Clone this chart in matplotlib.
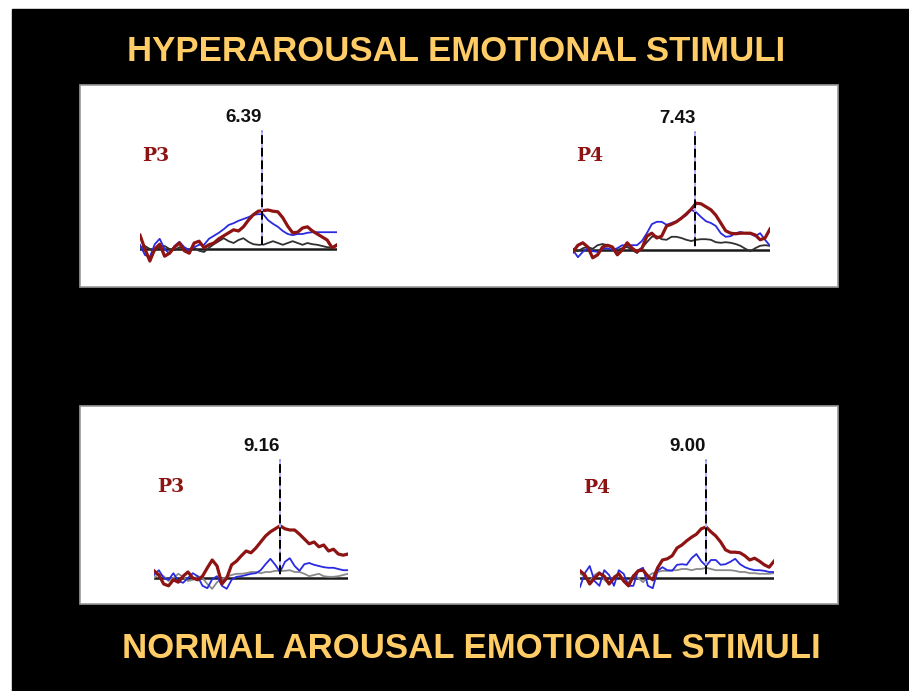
import numpy as np
import matplotlib
matplotlib.use("Agg")
import matplotlib.pyplot as plt
from matplotlib.patches import Rectangle

# time axis of each ERP trace (ms)
t_ms = np.arange(-400, 801, 30)

# amplitudes (uV)
hyper_p3_red = [2.3, 0.0, -2.0, 0.0, 0.8, -1.2, -0.7, 0.3, 1.0, -0.3, -0.7, 1.0, 1.3, 0.2, 0.7, 1.0, 1.7, 2.2, 2.7, 3.2,
                3.0, 3.7, 4.8, 5.7, 6.3, 6.4, 6.5, 6.3, 6.2, 5.2, 3.8, 2.7, 2.8, 3.5, 3.7, 3.0, 2.5, 2.0, 1.5, 0.2, 0.7]
hyper_p3_blue = [0.7, -1.0, -1.3, 0.8, 1.7, 0.0, -0.8, 0.5, 1.2, 0.3, -0.2, 0.3, 0.7, 0.7, 1.7, 2.2, 2.7, 3.3, 4.0, 4.3,
                 4.7, 5.0, 5.3, 5.7, 5.8, 5.8, 4.8, 4.2, 3.7, 3.0, 2.5, 2.3, 2.5, 2.5, 2.7, 2.8, 2.8, 2.8, 2.8, 2.8, 2.8]
hyper_p3_black = [0.2, 0.5, 0.0, -0.3, 0.3, 0.5, 0.0, -0.2, 0.3, 0.2, -0.2, 0.2, -0.3, -0.5, 0.2, 0.8, 1.3, 1.8, 1.3, 1.0,
                  1.5, 1.8, 1.2, 0.8, 0.7, 0.7, 1.0, 1.3, 1.0, 0.7, 1.0, 1.3, 1.0, 0.7, 1.0, 0.8, 0.7, 0.5, 0.3, 0.2, 0.5]

hyper_p4_red = [-0.3, 0.8, 1.2, 0.5, -1.3, -0.8, 0.5, 0.8, 0.5, -0.8, 0.0, 1.2, 0.3, -0.3, 0.3, 2.3, 2.8, 2.0, 2.3, 4.0,
                4.3, 4.7, 5.3, 6.0, 6.8, 7.8, 7.7, 7.2, 6.7, 5.8, 4.5, 3.2, 2.8, 2.7, 2.8, 2.8, 2.8, 2.5, 1.7, 2.0, 3.5]
hyper_p4_blue = [0.0, -1.2, -0.3, 0.3, -0.2, -0.3, 0.2, 0.3, 0.0, 0.3, 0.8, 0.7, 0.8, 0.8, 1.5, 2.8, 4.3, 4.7, 4.7, 4.2,
                 4.5, 4.8, 5.3, 5.8, 6.7, 6.3, 5.5, 4.8, 4.5, 4.0, 2.8, 2.2, 2.3, 2.8, 3.0, 2.8, 2.7, 2.3, 2.8, 1.7, 0.7]
hyper_p4_black = [0.2, -0.2, 0.3, 0.5, 0.2, 0.8, 1.0, 0.8, 0.3, 0.0, 0.3, 0.5, 0.0, -0.5, 0.3, 1.3, 2.2, 2.3, 1.8, 1.7,
                  2.2, 2.2, 2.0, 1.7, 1.5, 1.7, 1.8, 1.8, 1.7, 1.3, 1.2, 1.3, 1.2, 1.0, 0.7, 0.2, -0.2, 0.3, 0.7, 0.8, 0.7]

normal_p3_red = [1.2, 0.5, -1.0, -1.3, -0.3, -0.7, 0.3, 1.0, 0.0, -0.3, 0.3, 1.7, 3.0, 2.0, -1.0, 0.0, 2.2, 2.8, 3.7, 4.5,
                 4.2, 5.0, 6.0, 7.0, 7.7, 8.2, 8.7, 8.2, 8.0, 8.0, 7.3, 6.5, 5.7, 6.0, 5.2, 5.5, 4.5, 4.8, 4.0, 3.8, 4.0]
normal_p3_blue = [0.5, 1.3, 0.0, -0.3, 0.8, -0.5, -0.8, 0.0, 0.8, 0.3, -1.3, -1.7, -0.2, 0.3, -1.3, -1.8, -0.3, 0.2, 0.3, 0.5,
                  0.7, 0.8, 1.3, 2.3, 3.2, 2.2, 1.0, 2.7, 3.3, 2.0, 1.2, 2.3, 2.5, 2.2, 2.0, 1.8, 1.7, 1.7, 1.5, 1.3, 1.3]
normal_p3_gray = [0.0, 0.7, 0.3, -0.5, 0.0, 0.7, 0.2, -0.5, -0.3, 0.3, 0.0, -1.0, -1.8, -0.7, -0.2, 0.2, 0.5, 0.7, 0.7, 0.8,
                  1.0, 1.0, 0.8, 1.0, 1.0, 1.2, 1.2, 1.2, 1.3, 1.0, 1.0, 0.7, 0.3, 0.5, 0.7, 0.3, 0.2, 0.2, 0.3, 0.5, 0.7]

normal_p4_red = [1.2, 0.5, -1.0, 0.0, 0.8, 0.3, -1.0, 0.0, 0.7, -0.5, -1.3, 0.3, 1.2, 1.3, 0.3, -0.3, 1.7, 3.0, 3.2, 3.7,
                 5.0, 5.5, 6.2, 6.8, 7.3, 8.2, 8.5, 7.7, 7.0, 6.0, 4.7, 4.3, 4.3, 4.2, 3.7, 3.0, 3.3, 2.8, 2.2, 1.8, 2.8]
normal_p4_blue = [-1.5, 0.8, 2.0, -0.5, -1.3, 1.3, 0.5, -1.3, 1.3, 0.7, -1.3, -1.3, 1.3, 1.7, -1.3, -1.7, 1.2, 1.8, 1.3, 1.2,
                  2.2, 2.3, 2.2, 3.3, 4.0, 2.8, 2.0, 3.0, 3.0, 2.2, 2.3, 2.7, 3.2, 2.3, 1.8, 1.5, 1.3, 1.3, 1.2, 1.0, 1.0]
normal_p4_gray = [0.7, 0.3, -0.5, 0.5, 1.0, -0.3, -1.0, 0.3, 0.7, -0.3, -0.8, 0.5, 0.0, -0.7, 0.3, 0.8, 1.0, 1.2, 1.2, 1.3,
                  1.3, 1.5, 1.5, 1.3, 1.5, 1.5, 1.7, 1.5, 1.3, 1.3, 1.3, 1.3, 1.2, 1.0, 1.0, 0.8, 0.8, 0.7, 0.7, 0.7, 0.8]

peak_labels = ["6.39", "7.43", "9.16", "9.00"]
peak_latency = [344, 344, 380, 380]
channels = ["P3", "P4", "P3", "P4"]

W, H = 909, 691
RED = "#8e1414"
BLUE = "#2a2ae0"
TITLE_COL = "#ffcc66"
SCALE = 6.0  # px per uV

fig = plt.figure(figsize=(W / 100, H / 100), dpi=100)
fig.patch.set_facecolor("white")

# background in pixel coords
bg = fig.add_axes([0, 0, 1, 1])
bg.set_xlim(0, W)
bg.set_ylim(H, 0)
bg.axis("off")
bg.add_patch(Rectangle((12, 9), W - 12, H - 9, color="black"))
bg.add_patch(Rectangle((80, 85), 758, 202, facecolor="white", edgecolor="#9a9a9a", lw=1.2))
bg.add_patch(Rectangle((80, 406), 758, 198, facecolor="white", edgecolor="#9a9a9a", lw=1.2))

bg.text(456, 51, "HYPERAROUSAL EMOTIONAL STIMULI", color=TITLE_COL, fontsize=25,
        fontweight="bold", family="Liberation Sans", ha="center", va="center")
bg.text(471, 648, "NORMAL AROUSAL EMOTIONAL STIMULI", color=TITLE_COL, fontsize=25,
        fontweight="bold", family="Liberation Sans", ha="center", va="center")

# channel name positions (px)
chan_pos = [(156, 156), (590, 156), (171, 487), (597, 488)]
for (cx, cy), name in zip(chan_pos, channels):
    bg.text(cx, cy, name, color=RED, fontsize=13.5, fontweight="bold",
            family="DejaVu Serif", ha="center", va="center")

# waveform boxes: x start, x end, baseline y (px)
boxes = [(140, 337, 249), (573, 770, 250), (154, 348, 578), (580, 774, 578)]
traces = [
    (hyper_p3_red, hyper_p3_blue, hyper_p3_black, "#303030"),
    (hyper_p4_red, hyper_p4_blue, hyper_p4_black, "#303030"),
    (normal_p3_red, normal_p3_blue, normal_p3_gray, "#8a8a8a"),
    (normal_p4_red, normal_p4_blue, normal_p4_gray, "#8a8a8a"),
]

below, above = 30, 140
for k in range(4):
    x0, x1, base = boxes[k]
    ax = fig.add_axes([x0 / W, (H - base - below) / H, (x1 - x0) / W, (below + above) / H])
    ax.set_xlim(t_ms[0], t_ms[-1])
    ax.set_ylim(-below / SCALE, above / SCALE)
    ax.axis("off")
    ax.patch.set_alpha(0)

    red, blue, third, third_col = traces[k]
    ax.plot(t_ms, np.zeros(len(t_ms)), color="#1a1a1a", lw=1.8, zorder=1)
    ax.plot(t_ms, third, color=third_col, lw=1.3, zorder=2)
    ax.plot(t_ms, blue, color=BLUE, lw=1.3, zorder=3)
    ax.plot(t_ms, red, color=RED, lw=2.3, zorder=4)

    top = 118 / SCALE
    lat = peak_latency[k]
    ax.plot([lat, lat], [0.6, top], color="#b4b4ff", lw=1.4, zorder=5)
    ax.plot([lat, lat], [0.6, top], color="black", lw=1.4, ls=(0, (4.5, 2)), zorder=6)
    ax.text(lat, top + 0.8, peak_labels[k], ha="right", va="bottom", fontsize=13.5,
            fontweight="bold", family="Liberation Sans", color="#111111")

fig.savefig("out.png", dpi=100, facecolor=fig.get_facecolor())
